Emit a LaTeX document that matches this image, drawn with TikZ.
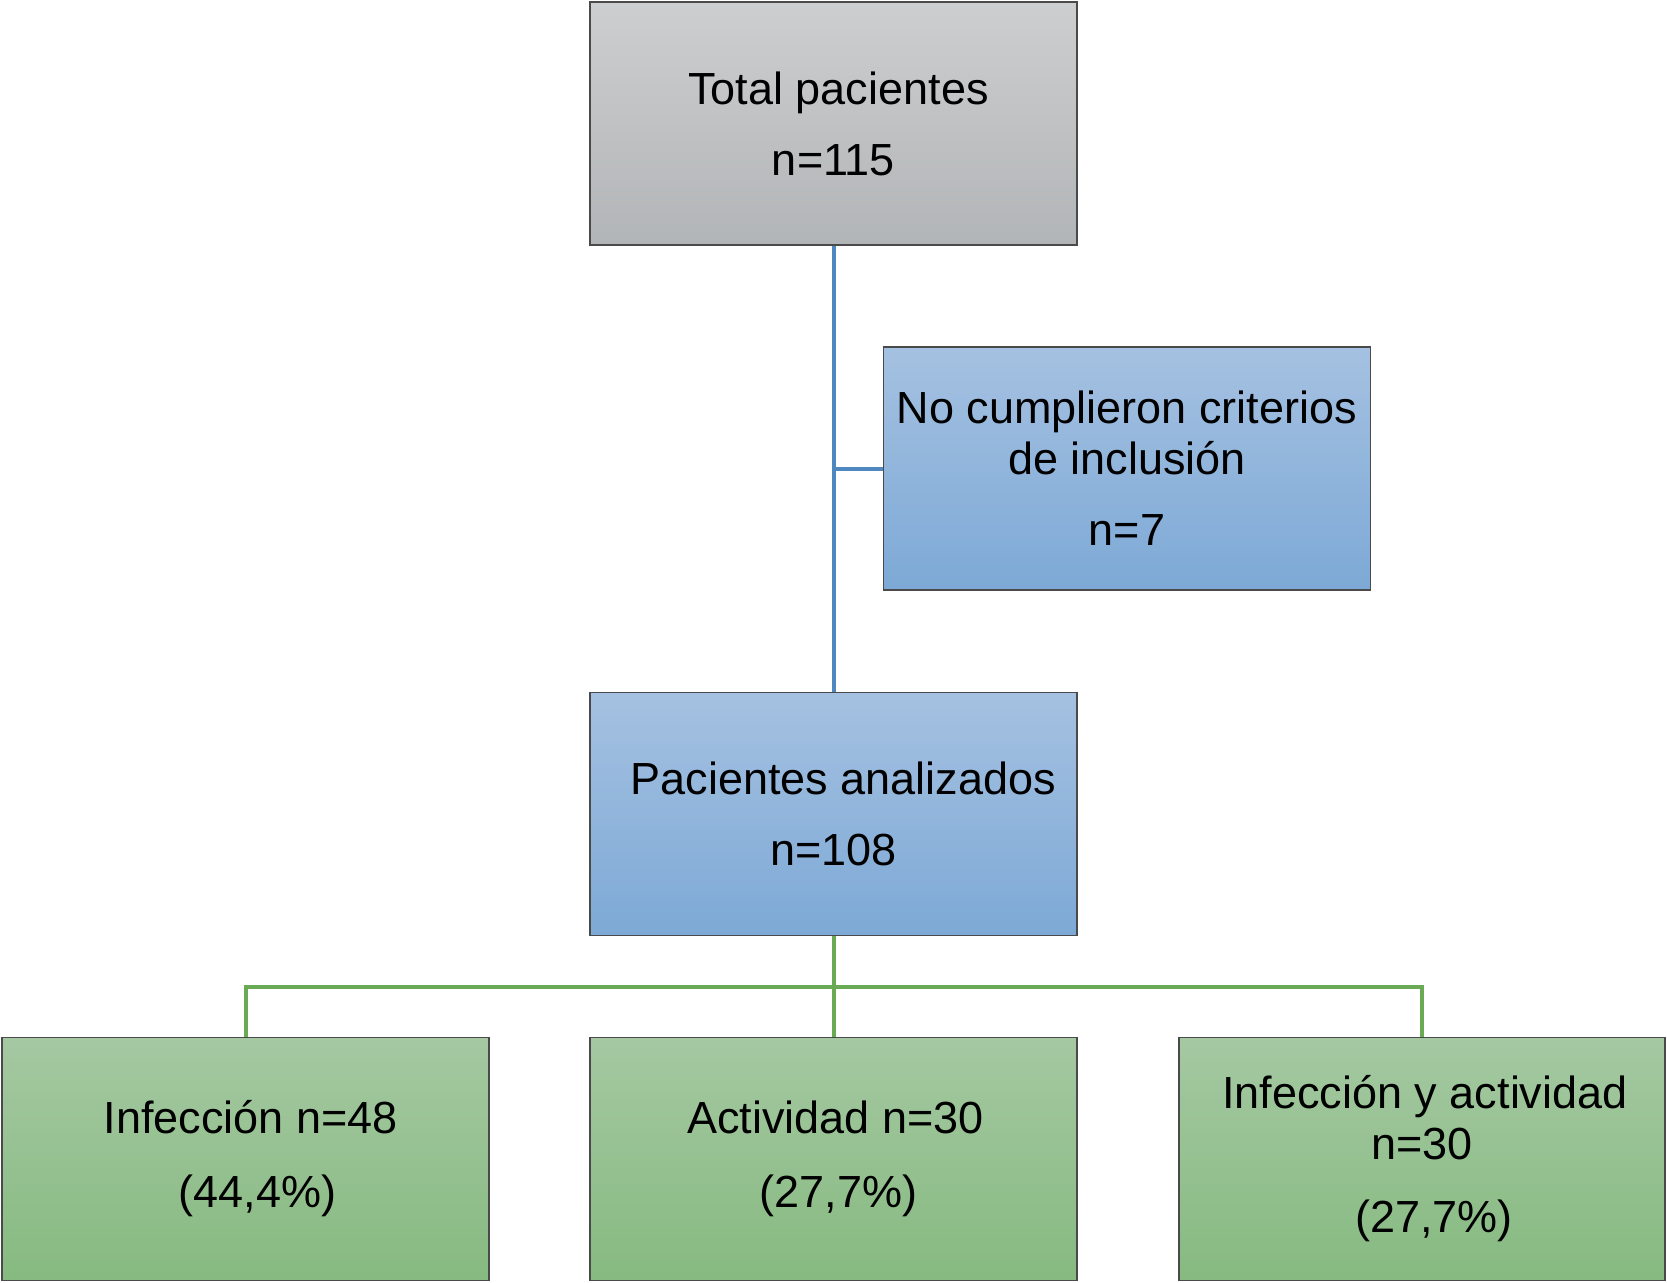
\documentclass[tikz,border=0pt]{standalone}
\usepackage{fontspec}
\setmainfont{Liberation Sans}
\definecolor{bordc}{HTML}{4A4A4A}
\definecolor{grayT}{HTML}{CDCECF}
\definecolor{grayB}{HTML}{B2B5B7}
\definecolor{blueT}{HTML}{A5C1E1}
\definecolor{blueB}{HTML}{7DA9D6}
\definecolor{greenT}{HTML}{A5C8A2}
\definecolor{greenB}{HTML}{86BA80}
\definecolor{blueline}{HTML}{4F87C0}
\definecolor{greenline}{HTML}{6BAA55}
\begin{document}
\begin{tikzpicture}[x=1pt,y=-1pt,
  box/.style={rectangle, draw=bordc, line width=1.5pt, inner sep=0pt,
    minimum width=487pt, minimum height=243pt, align=center,
    font=\fontsize{45}{51}\selectfont},
  graybox/.style={box, top color=grayT, bottom color=grayB},
  bluebox/.style={box, top color=blueT, bottom color=blueB},
  greenbox/.style={box, top color=greenT, bottom color=greenB},
  bconn/.style={draw=blueline, line width=4pt},
  gconn/.style={draw=greenline, line width=4pt}]
\useasboundingbox (0,0) rectangle (1667,1282);
\fill[white] (0,0) rectangle (1667,1282);

\node[graybox] (top) at (833.5,123.5) {\hspace*{10pt}Total pacientes\\[20pt]n=115};
\node[bluebox] (excl) at (1127,468.5) {No cumplieron criterios\\de inclusión\\[20pt]n=7};
\node[bluebox] (mid) at (833.5,814) {\hspace*{20pt}Pacientes analizados\\[20pt]n=108};
\node[greenbox] (b1) at (245.5,1159) {\hspace*{10pt}Infección n=48\\[23pt]\hspace*{24pt}(44,4\%)};
\node[greenbox] (b2) at (833.5,1159) {\hspace*{4pt}Actividad n=30\\[23pt]\hspace*{10pt}(27,7\%)};
\node[greenbox, minimum width=486pt] (b3) at (1422,1159) {\hspace*{6pt}Infección y actividad\\n=30\\[22pt]\hspace*{24pt}(27,7\%)};

\draw[bconn] (top.south) -- (mid.north);
\draw[bconn] (top.south |- excl.west) -- (excl.west);

\coordinate (bus) at (833.5,987);
\draw[gconn] (mid.south) -- (bus);
\draw[gconn] (b1.north) |- (bus) -| (b3.north);
\draw[gconn] (bus) -- (b2.north);
\end{tikzpicture}
\end{document}
